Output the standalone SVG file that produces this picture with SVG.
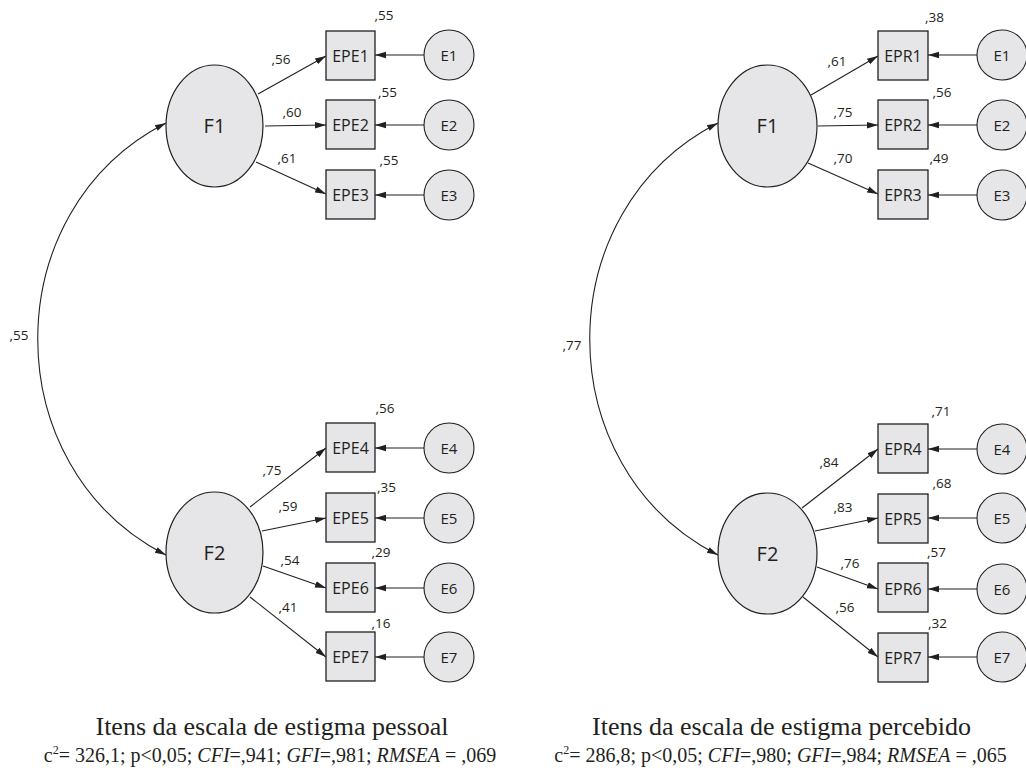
<svg xmlns="http://www.w3.org/2000/svg" width="1026" height="778" viewBox="0 0 1026 778">
<style>
.bg{fill:#ffffff}
.lat{fill:#e6e6e8;stroke:#231f20;stroke-width:1.2}
.box{fill:#e6e6e8;stroke:#231f20;stroke-width:1.3}
.err{fill:#e6e6e8;stroke:#231f20;stroke-width:1.1}
.ln{fill:none;stroke:#231f20;stroke-width:1.1}
.lf{font-family:"Open Sans","Noto Sans",sans-serif;font-size:20px;fill:#231f20;text-anchor:middle}
.lb{font-family:"Open Sans","Noto Sans",sans-serif;font-size:16px;fill:#231f20;text-anchor:middle}
.le{font-family:"Open Sans","Noto Sans",sans-serif;font-size:15px;fill:#231f20;text-anchor:middle}
.sm{font-family:"Open Sans","Noto Sans",sans-serif;font-size:13.5px;fill:#231f20;text-anchor:middle}
.cap{font-family:"Liberation Serif","DejaVu Serif",serif;font-size:26px;fill:#231f20;text-anchor:middle}
.fit{font-family:"Liberation Serif","DejaVu Serif",serif;font-size:20px;fill:#231f20;text-anchor:middle}
.it{font-style:italic}
</style>
<defs>
<marker id="ah" markerUnits="userSpaceOnUse" markerWidth="12" markerHeight="8" refX="11" refY="4" orient="auto-start-reverse" viewBox="0 0 12 8">
<path d="M0,0.8 L11,4 L0,7.2 Z" fill="#231f20"/>
</marker>
</defs>
<rect class="bg" x="0" y="0" width="1026" height="778"/>

<g id="connectors">
<path class="ln" d="M166,123 C-5,210 -5,468 166,555" marker-start="url(#ah)" marker-end="url(#ah)"/>
<line class="ln" x1="258" y1="94" x2="326" y2="56" marker-end="url(#ah)"/>
<line class="ln" x1="265" y1="126" x2="326" y2="125" marker-end="url(#ah)"/>
<line class="ln" x1="256" y1="162" x2="326" y2="194" marker-end="url(#ah)"/>
<line class="ln" x1="250" y1="507" x2="326" y2="448" marker-end="url(#ah)"/>
<line class="ln" x1="262" y1="531" x2="326" y2="518" marker-end="url(#ah)"/>
<line class="ln" x1="263" y1="566" x2="326" y2="588" marker-end="url(#ah)"/>
<line class="ln" x1="250" y1="597" x2="326" y2="657" marker-end="url(#ah)"/>
<line class="ln" x1="424" y1="55" x2="375" y2="55" marker-end="url(#ah)"/>
<line class="ln" x1="424" y1="125" x2="375" y2="125" marker-end="url(#ah)"/>
<line class="ln" x1="424" y1="195" x2="375" y2="195" marker-end="url(#ah)"/>
<line class="ln" x1="424" y1="448" x2="375" y2="448" marker-end="url(#ah)"/>
<line class="ln" x1="424" y1="518" x2="375" y2="518" marker-end="url(#ah)"/>
<line class="ln" x1="424" y1="588" x2="375" y2="588" marker-end="url(#ah)"/>
<line class="ln" x1="424" y1="657" x2="375" y2="657" marker-end="url(#ah)"/>
<path class="ln" d="M718,123 C547,210 547,468 718,555" marker-start="url(#ah)" marker-end="url(#ah)"/>
<line class="ln" x1="811" y1="95" x2="878" y2="56" marker-end="url(#ah)"/>
<line class="ln" x1="818" y1="126" x2="878" y2="125" marker-end="url(#ah)"/>
<line class="ln" x1="808" y1="163" x2="878" y2="194" marker-end="url(#ah)"/>
<line class="ln" x1="802" y1="508" x2="878" y2="449" marker-end="url(#ah)"/>
<line class="ln" x1="815" y1="531" x2="878" y2="518" marker-end="url(#ah)"/>
<line class="ln" x1="817" y1="567" x2="878" y2="589" marker-end="url(#ah)"/>
<line class="ln" x1="803" y1="597" x2="878" y2="657" marker-end="url(#ah)"/>
<line class="ln" x1="977" y1="55" x2="928" y2="55" marker-end="url(#ah)"/>
<line class="ln" x1="977" y1="125" x2="928" y2="125" marker-end="url(#ah)"/>
<line class="ln" x1="977" y1="195" x2="928" y2="195" marker-end="url(#ah)"/>
<line class="ln" x1="977" y1="449" x2="928" y2="449" marker-end="url(#ah)"/>
<line class="ln" x1="977" y1="518" x2="928" y2="518" marker-end="url(#ah)"/>
<line class="ln" x1="977" y1="589" x2="928" y2="589" marker-end="url(#ah)"/>
<line class="ln" x1="977" y1="657" x2="928" y2="657" marker-end="url(#ah)"/>
</g>

<g id="edge-labels">
<text class="sm" x="19" y="340">,55</text>
<text class="sm" x="281" y="64">,56</text>
<text class="sm" x="292" y="117">,60</text>
<text class="sm" x="287" y="163">,61</text>
<text class="sm" x="272" y="475">,75</text>
<text class="sm" x="288" y="511">,59</text>
<text class="sm" x="290" y="565">,54</text>
<text class="sm" x="288" y="612">,41</text>
<text class="sm" x="572" y="350">,77</text>
<text class="sm" x="837" y="66">,61</text>
<text class="sm" x="843" y="117">,75</text>
<text class="sm" x="843" y="163">,70</text>
<text class="sm" x="829" y="467">,84</text>
<text class="sm" x="843" y="512">,83</text>
<text class="sm" x="850" y="568">,76</text>
<text class="sm" x="845" y="612">,56</text>
</g>

<g id="L-F1"><ellipse class="lat" cx="214.5" cy="126" rx="48.5" ry="61"/><text class="lf" x="214.5" y="133">F1</text></g>
<g id="L-F2"><ellipse class="lat" cx="214.5" cy="552.5" rx="48.5" ry="60.5"/><text class="lf" x="214.5" y="560">F2</text></g>

<g id="L-EPE1"><rect class="box" x="326" y="31" width="49" height="49"/><text class="lb" x="350.5" y="61.5">EPE1</text><text class="sm" x="384" y="20">,55</text></g>
<g id="L-EPE2"><rect class="box" x="326" y="100" width="49" height="49"/><text class="lb" x="350.5" y="130.5">EPE2</text><text class="sm" x="387.5" y="97">,55</text></g>
<g id="L-EPE3"><rect class="box" x="326" y="170" width="49" height="49"/><text class="lb" x="350.5" y="200.5">EPE3</text><text class="sm" x="389" y="165">,55</text></g>
<g id="L-EPE4"><rect class="box" x="326" y="423" width="49" height="49"/><text class="lb" x="350.5" y="454">EPE4</text><text class="sm" x="385" y="413">,56</text></g>
<g id="L-EPE5"><rect class="box" x="326" y="493" width="49" height="49"/><text class="lb" x="350.5" y="524">EPE5</text><text class="sm" x="386.5" y="492">,35</text></g>
<g id="L-EPE6"><rect class="box" x="326" y="563" width="49" height="49"/><text class="lb" x="350.5" y="594">EPE6</text><text class="sm" x="381" y="557">,29</text></g>
<g id="L-EPE7"><rect class="box" x="326" y="632" width="49" height="49"/><text class="lb" x="350.5" y="663">EPE7</text><text class="sm" x="381" y="628">,16</text></g>

<g id="L-E1"><circle class="err" cx="449" cy="55" r="25"/><text class="le" x="449" y="61">E1</text></g>
<g id="L-E2"><circle class="err" cx="449" cy="125" r="25"/><text class="le" x="449" y="131">E2</text></g>
<g id="L-E3"><circle class="err" cx="449" cy="195" r="25"/><text class="le" x="449" y="201">E3</text></g>
<g id="L-E4"><circle class="err" cx="449" cy="448" r="25"/><text class="le" x="449" y="454">E4</text></g>
<g id="L-E5"><circle class="err" cx="449" cy="518" r="25"/><text class="le" x="449" y="524">E5</text></g>
<g id="L-E6"><circle class="err" cx="449" cy="588" r="25"/><text class="le" x="449" y="594">E6</text></g>
<g id="L-E7"><circle class="err" cx="449" cy="657" r="25"/><text class="le" x="449" y="663">E7</text></g>

<g id="R-F1"><ellipse class="lat" cx="767.5" cy="126" rx="49.5" ry="61"/><text class="lf" x="767.5" y="133">F1</text></g>
<g id="R-F2"><ellipse class="lat" cx="767.5" cy="553.5" rx="49.5" ry="60.5"/><text class="lf" x="767.5" y="561">F2</text></g>

<g id="R-EPR1"><rect class="box" x="878" y="31" width="50" height="49"/><text class="lb" x="903" y="61.5">EPR1</text><text class="sm" x="934.5" y="22">,38</text></g>
<g id="R-EPR2"><rect class="box" x="878" y="100" width="50" height="49"/><text class="lb" x="903" y="130.5">EPR2</text><text class="sm" x="942" y="97">,56</text></g>
<g id="R-EPR3"><rect class="box" x="878" y="170" width="50" height="49"/><text class="lb" x="903" y="200.5">EPR3</text><text class="sm" x="939" y="163">,49</text></g>
<g id="R-EPR4"><rect class="box" x="878" y="424" width="50" height="49"/><text class="lb" x="903" y="455">EPR4</text><text class="sm" x="941" y="416">,71</text></g>
<g id="R-EPR5"><rect class="box" x="878" y="494" width="50" height="49"/><text class="lb" x="903" y="524.5">EPR5</text><text class="sm" x="942" y="488">,68</text></g>
<g id="R-EPR6"><rect class="box" x="878" y="563" width="50" height="49"/><text class="lb" x="903" y="594.5">EPR6</text><text class="sm" x="936.5" y="557">,57</text></g>
<g id="R-EPR7"><rect class="box" x="878" y="633" width="50" height="49"/><text class="lb" x="903" y="663.5">EPR7</text><text class="sm" x="937.5" y="628">,32</text></g>

<g id="R-E1"><circle class="err" cx="1002" cy="55" r="25"/><text class="le" x="1002" y="61">E1</text></g>
<g id="R-E2"><circle class="err" cx="1002" cy="125" r="25"/><text class="le" x="1002" y="131">E2</text></g>
<g id="R-E3"><circle class="err" cx="1002" cy="195" r="25"/><text class="le" x="1002" y="201">E3</text></g>
<g id="R-E4"><circle class="err" cx="1002" cy="449" r="25"/><text class="le" x="1002" y="455">E4</text></g>
<g id="R-E5"><circle class="err" cx="1002" cy="518" r="25"/><text class="le" x="1002" y="524">E5</text></g>
<g id="R-E6"><circle class="err" cx="1002" cy="589" r="25"/><text class="le" x="1002" y="595">E6</text></g>
<g id="R-E7"><circle class="err" cx="1002" cy="657" r="25"/><text class="le" x="1002" y="663">E7</text></g>

<g id="captions">
<text class="cap" x="272" y="735">Itens da escala de estigma pessoal</text>
<text class="fit" x="270" y="762">c<tspan font-size="12" dy="-8">2</tspan><tspan dy="8">= 326,1; p&lt;0,05; </tspan><tspan class="it">CFI</tspan>=,941; <tspan class="it">GFI</tspan>=,981; <tspan class="it">RMSEA</tspan> = ,069</text>
<text class="cap" x="781.5" y="735">Itens da escala de estigma percebido</text>
<text class="fit" x="780.5" y="762">c<tspan font-size="12" dy="-8">2</tspan><tspan dy="8">= 286,8; p&lt;0,05; </tspan><tspan class="it">CFI</tspan>=,980; <tspan class="it">GFI</tspan>=,984; <tspan class="it">RMSEA</tspan> = ,065</text>
</g>
</svg>
